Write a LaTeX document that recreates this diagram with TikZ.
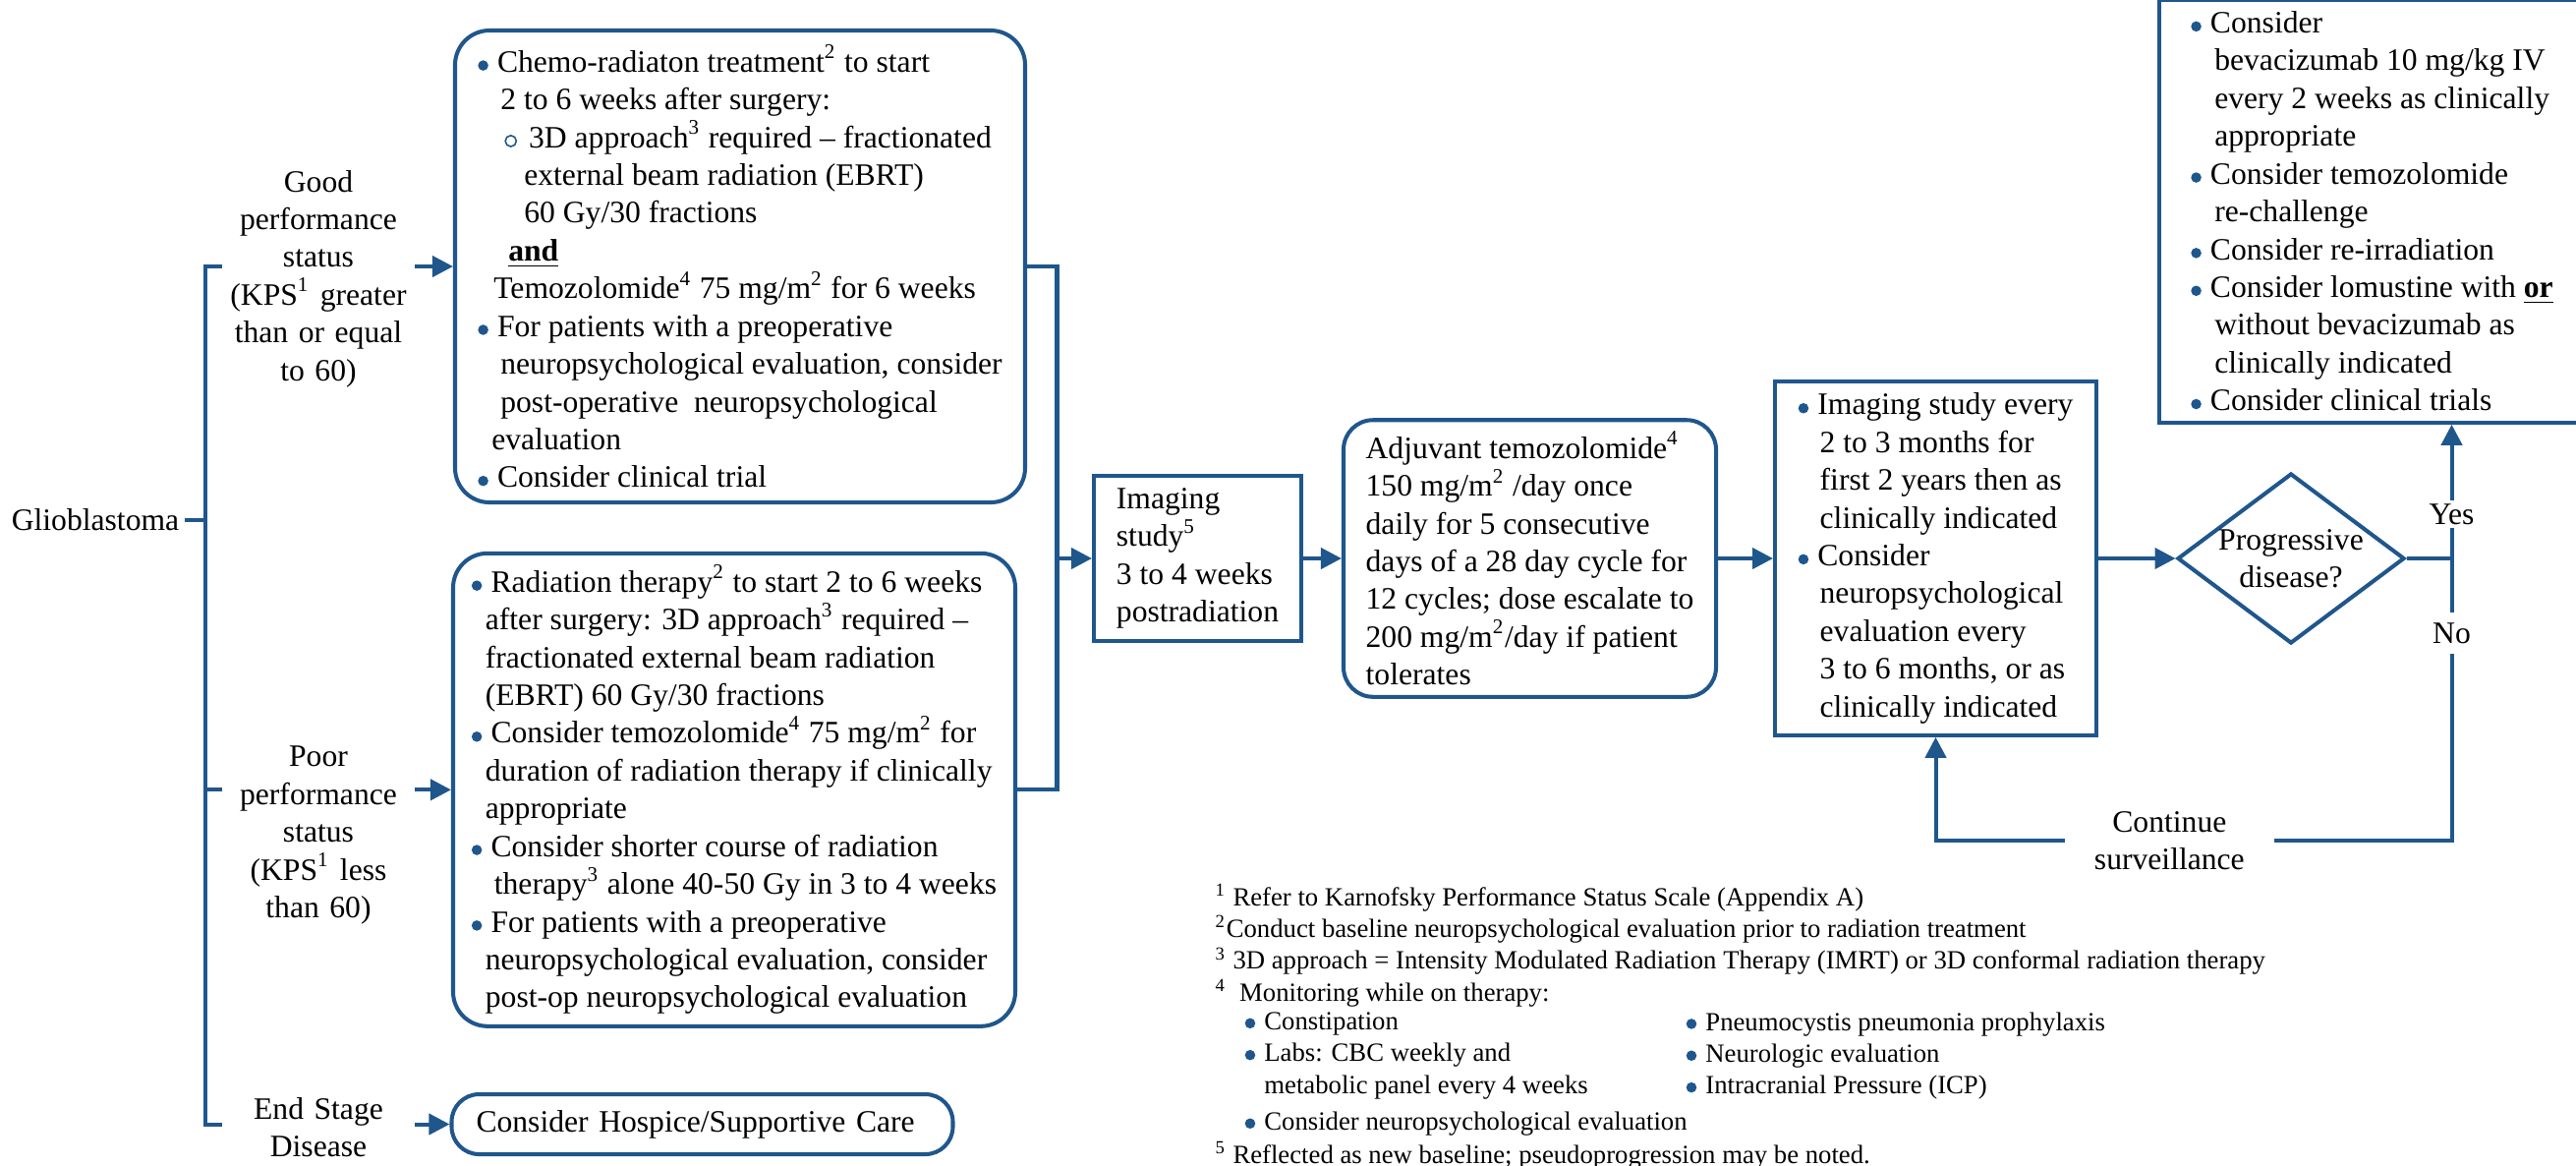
\documentclass[tikz,border=0pt]{standalone}
\usepackage{fontspec}
\setmainfont{Liberation Serif}
\usetikzlibrary{shapes.geometric,arrows.meta,positioning}

\definecolor{flowblue}{RGB}{31,86,140}
\newcommand{\bul}{\tikz[baseline=-1.9pt]\fill[flowblue] (0,0) circle (1.5pt);\hspace{2.6pt}}
\newcommand{\obul}{\tikz[baseline=-1.9pt]\draw[flowblue, line width=0.45pt] (0,0) circle (1.6pt);\hspace{3.4pt}}
\newcommand{\indt}[1]{\hspace*{#1}}

\begin{document}
\begin{tikzpicture}[
    every node/.style={font=\fontsize{9}{10.93}\selectfont},
    box/.style={draw=flowblue, line width=1.15pt, rounded corners=0.35cm, align=left},
    sqbox/.style={draw=flowblue, line width=1.15pt, align=left},
    lbl/.style={align=center, inner sep=0pt, text width=1.95cm},
    tag/.style={fill=white, inner sep=1pt, align=center},
    note/.style={font=\fontsize{7.6}{9.2}\selectfont, align=left, inner sep=0pt, anchor=west},
    flow/.style={draw=flowblue, line width=1.15pt},
    arrow/.style={flow, -{Triangle[length=2.1mm, width=2.1mm]}}
]
\useasboundingbox (0,0) rectangle (26.21,-11.85);

% first column
\node[inner xsep=0.05cm] (glio) at (0.97,-5.29) {Glioblastoma};
\node[lbl] (good) at (3.24,-2.835) {Good\\performance\\status\\(KPS\textsuperscript{1} greater\\than or equal\\to 60)};
\node[lbl] (poor) at (3.24,-8.496) {Poor\\performance\\status\\(KPS\textsuperscript{1} less\\than 60)};
\node[lbl] (endst) at (3.24,-11.465) {End Stage\\Disease};

\node[box, minimum width=5.80cm, minimum height=4.80cm] (goodbox) at (7.53,-2.71) {%
\bul Chemo-radiaton treatment\textsuperscript{2} to start\\
\indt{0.23cm}2 to 6 weeks after surgery:\\
\indt{0.27cm}\obul 3D approach\textsuperscript{3} required – fractionated\\
\indt{0.47cm}external beam radiation (EBRT)\\
\indt{0.47cm}60 Gy/30 fractions\\
\indt{0.31cm}\underline{\textbf{and}}\\
\indt{0.16cm}Temozolomide\textsuperscript{4} 75 mg/m\textsuperscript{2} for 6 weeks\\
\bul For patients with a preoperative\\
\indt{0.23cm}neuropsychological evaluation, consider\\
\indt{0.23cm}post-operative\ \ neuropsychological\\
\indt{0.14cm}evaluation\\
\bul Consider clinical trial};

\node[box, minimum width=5.72cm, minimum height=4.81cm] (poorbox) at (7.47,-8.033) {%
\bul Radiation therapy\textsuperscript{2} to start 2 to 6 weeks\\
\indt{0.14cm}after surgery: 3D approach\textsuperscript{3} required –\\
\indt{0.14cm}fractionated external beam radiation\\
\indt{0.14cm}(EBRT) 60 Gy/30 fractions\\
\bul Consider temozolomide\textsuperscript{4} 75 mg/m\textsuperscript{2} for\\
\indt{0.14cm}duration of radiation therapy if clinically\\
\indt{0.14cm}appropriate\\
\bul Consider shorter course of radiation\\
\indt{0.23cm}therapy\textsuperscript{3} alone 40-50 Gy in 3 to 4 weeks\\
\bul For patients with a preoperative\\
\indt{0.14cm}neuropsychological evaluation, consider\\
\indt{0.14cm}post-op neuropsychological evaluation};

\node[box, rounded corners=0.28cm, minimum width=5.10cm, minimum height=0.61cm, text width=4.6cm] (hospice) at (7.145,-11.435) {Consider Hospice/Supportive Care};

\coordinate (br) at (2.09,-5.29);
\draw[flow] (glio) -- (br);
\draw[flow] (good.west |- goodbox) -| (br) |- (endst.west |- hospice);
\draw[flow] (br |- poorbox) -- (poor.west |- poorbox);
\draw[arrow] (good.east |- goodbox) -- (goodbox);
\draw[arrow] (poor.east |- poorbox) -- (poorbox);
\draw[arrow] (endst.east |- hospice) -- (hospice);

% main line
\coordinate (mrg) at (10.755,-5.68);
\draw[flow] (goodbox.east) -| (mrg) |- (poorbox.east);

\node[sqbox, minimum width=2.11cm, minimum height=1.68cm] (imaging) at (12.185,-5.68) {Imaging\\study\textsuperscript{5}\\3 to 4 weeks\\postradiation};
\node[box, rounded corners=0.3cm, minimum width=3.79cm, minimum height=2.74cm] (adjuvant) at (15.565,-5.68) {%
Adjuvant temozolomide\textsuperscript{4}\\
150 mg/m\textsuperscript{2} /day once\\
daily for 5 consecutive\\
days of a 28 day cycle for\\
12 cycles; dose escalate to\\
200 mg/m\textsuperscript{2}/day if patient\\
tolerates};
\node[sqbox, minimum width=3.27cm, minimum height=3.43cm] (surv) at (19.695,-5.68) {%
\bul Imaging study every\\
\indt{0.22cm}2 to 3 months for\\
\indt{0.22cm}first 2 years then as\\
\indt{0.22cm}clinically indicated\\
\bul Consider\\
\indt{0.22cm}neuropsychological\\
\indt{0.22cm}evaluation every\\
\indt{0.22cm}3 to 6 months, or as\\
\indt{0.22cm}clinically indicated};
\node[diamond, draw=flowblue, line width=1.15pt, aspect=1.34, inner sep=0pt, minimum width=2.31cm, minimum height=1.73cm, align=center] (dia) at (23.31,-5.68) {Progressive\\disease?};

\node[sqbox, minimum width=4.33cm, minimum height=4.204cm] (rec) at (24.135,-2.148) {%
\bul Consider\\
\indt{0.24cm}bevacizumab 10 mg/kg IV\\
\indt{0.24cm}every 2 weeks as clinically\\
\indt{0.24cm}appropriate\\
\bul Consider temozolomide\\
\indt{0.24cm}re-challenge\\
\bul Consider re-irradiation\\
\bul Consider lomustine with \underline{\textbf{or}}\\
\indt{0.24cm}without bevacizumab as\\
\indt{0.24cm}clinically indicated\\
\bul Consider clinical trials};

\draw[arrow] (mrg) -- (imaging);
\draw[arrow] (imaging) -- (adjuvant);
\draw[arrow] (adjuvant) -- (surv);
\draw[arrow] (surv) -- (dia);

\coordinate (yn) at (24.945,-5.68);
\coordinate (loop) at (24.945,-8.55);
\draw[flow] (dia) -- (yn);
\draw[arrow] (yn) -- node[tag, pos=0.33] (yes) {Yes} (yn |- rec.south);
\draw[arrow] (yn) -- node[tag, inner ysep=3pt, pos=0.265] (no) {No} (loop)
    -- node[tag, inner xsep=0.3cm, pos=0.547] (cont) {Continue\\surveillance} (surv.south |- loop)
    -- (surv.south);

% footnotes
\node[note] (notes) at (12.36,-9.615) {%
\textsuperscript{1} Refer to Karnofsky Performance Status Scale (Appendix A)\\
\textsuperscript{2}Conduct baseline neuropsychological evaluation prior to radiation treatment\\
\textsuperscript{3} 3D approach = Intensity Modulated Radiation Therapy (IMRT) or 3D conformal radiation therapy\\
\textsuperscript{4}\ \ Monitoring while on therapy:};
\node[note] (monl) at (12.66,-10.925) {%
\bul Constipation\\
\bul Labs: CBC weekly and\\
\indt{5.6pt}metabolic panel every 4 weeks\\[1.4pt]
\bul Consider neuropsychological evaluation};
\node[note] (monr) at (17.15,-10.74) {%
\bul Pneumocystis pneumonia prophylaxis\\
\bul Neurologic evaluation\\
\bul Intracranial Pressure (ICP)};
\node[note] (fnv) at (12.36,-11.75) {\textsuperscript{5} Reflected as new baseline; pseudoprogression may be noted.};
\end{tikzpicture}
\end{document}
